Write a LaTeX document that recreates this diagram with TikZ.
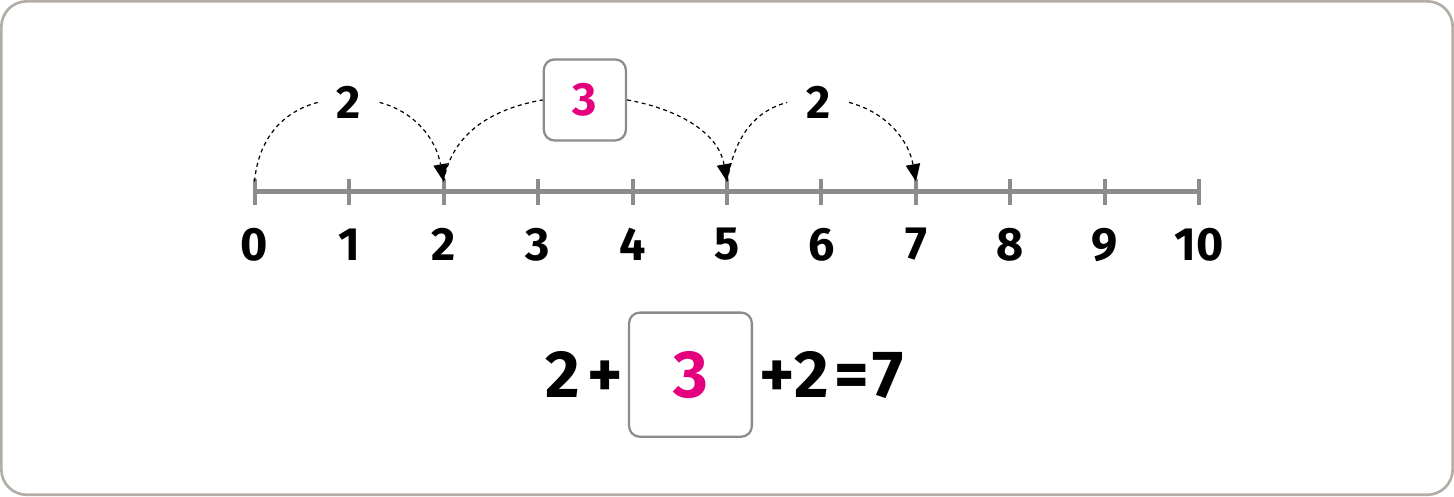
\documentclass[tikz,border=0pt]{standalone}
\usepackage{fontspec}
\setmainfont{Fira Sans}
\usetikzlibrary{arrows.meta}
\definecolor{linegray}{HTML}{8C8C8C}
\definecolor{framegray}{HTML}{B4ADA6}
\definecolor{answerpink}{HTML}{E5007E}
\begin{document}
\begin{tikzpicture}[x=0.75pt,y=0.75pt,
    num/.style={font=\fontsize{35}{40}\bfseries\selectfont},
    eq/.style={font=\fontsize{50}{56}\bfseries\selectfont,anchor=base},
    jumplabel/.style={num,inner sep=0pt,minimum width=46pt,minimum height=40pt},
    answerbox/.style={draw=linegray,line width=1.7pt,rounded corners=8pt,text=answerpink,inner sep=0pt},
    jump/.style={line width=0.9pt,dash pattern=on 3pt off 2.6pt},
    landing/.style={jump,-{Triangle[length=13pt,width=11pt,line width=0pt]}}]
  % frame
  \draw[framegray,line width=2pt,rounded corners=19pt] (2,2) rectangle (1452,495);
  % number line
  \draw[linegray,line width=3.75pt] (255,305) -- (1199,305);
  \foreach \i in {0,...,10}{
    \draw[linegray,line width=3pt] (255+94.4*\i,292) -- (255+94.4*\i,317);
    \coordinate (t\i) at (255+94.4*\i,315);
    \node[num] (n\i) at (255+94.4*\i,252) {\i};
  }
  % jumps
  \node[jumplabel] (ja) at (349,394) {2};
  \node[answerbox,num,minimum width=61.5pt,minimum height=60.7pt] (jb) at (585,396.5) {3};
  \node[jumplabel] (jc) at (818,394) {2};
  \draw[jump] (t0) to[out=85,in=195] (ja.west);
  \draw[landing] (ja.east) to[out=-15,in=100] (t2);
  \draw[jump] (t2) to[out=80,in=190] (jb.west);
  \draw[landing] (jb.east) to[out=-10,in=100] (t5);
  \draw[jump] (t5) to[out=80,in=195] (jc.west);
  \draw[landing] (jc.east) to[out=-15,in=100] (t7);
  % equation
  \node[eq] (e1) at (563,99) {2};
  \node[eq] (e2) at (605,99) {+};
  \node[answerbox,font=\fontsize{50}{56}\bfseries\selectfont,minimum width=92pt,minimum height=93pt] (eb) at (690.5,122) {3};
  \node[eq] (e3) at (777,99) {+};
  \node[eq] (e4) at (812,99) {2};
  \node[eq] (e5) at (852,99) {=};
  \node[eq] (e6) at (888,99) {7};
\end{tikzpicture}
\end{document}
